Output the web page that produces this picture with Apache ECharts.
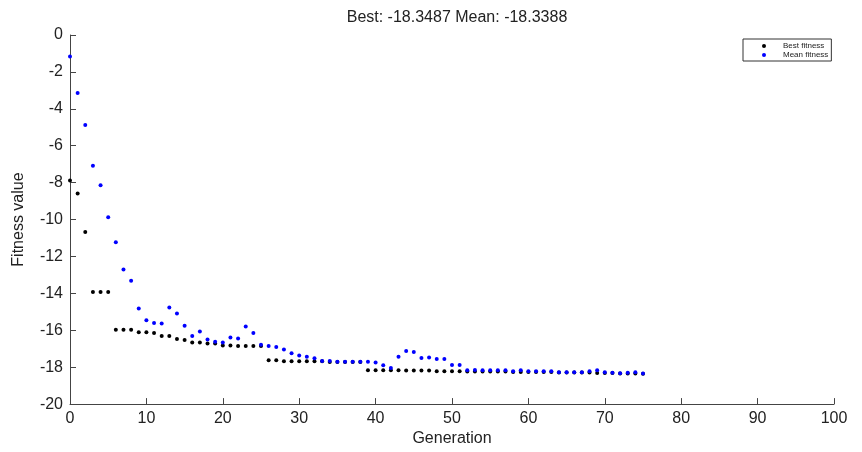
<!DOCTYPE html>
<html>
<head>
<meta charset="utf-8">
<script src="https://cdn.jsdelivr.net/npm/echarts@6/dist/echarts.min.js"></script>
<style>
  html, body { margin: 0; padding: 0; background: #fff; }
  #chart { width: 862px; height: 452px; }
</style>
</head>
<body>
<div id="chart"></div>
<script>
// Generation index for every recorded step
const generations = [];
for (let g = 0; g <= 75; g++) generations.push(g);

// Best fitness per generation
const bestFitness = [
  -7.89, -8.59, -10.67, -13.92, -13.92, -13.92, -15.97, -15.97, -15.97, -16.10,
  -16.10, -16.15, -16.31, -16.31, -16.47, -16.53, -16.66, -16.66, -16.71, -16.71,
  -16.82, -16.82, -16.85, -16.85, -16.85, -16.85, -17.63, -17.63, -17.68, -17.68,
  -17.68, -17.68, -17.68, -17.68, -17.72, -17.72, -17.72, -17.72, -17.72, -18.17,
  -18.17, -18.17, -18.17, -18.17, -18.18, -18.18, -18.18, -18.18, -18.22, -18.22,
  -18.22, -18.22, -18.24, -18.24, -18.24, -18.24, -18.24, -18.24, -18.26, -18.26,
  -18.26, -18.26, -18.26, -18.26, -18.29, -18.29, -18.29, -18.29, -18.29, -18.31,
  -18.31, -18.31, -18.345, -18.345, -18.345, -18.3487
];

// Mean fitness per generation
const meanFitness = [
  -1.16, -3.14, -4.87, -7.08, -8.14, -9.88, -11.23, -12.70, -13.32, -14.82,
  -15.45, -15.60, -15.63, -14.77, -15.09, -15.76, -16.31, -16.06, -16.50, -16.62,
  -16.66, -16.39, -16.44, -15.80, -16.15, -16.78, -16.85, -16.91, -17.04, -17.24,
  -17.36, -17.44, -17.52, -17.66, -17.66, -17.70, -17.70, -17.71, -17.70, -17.71,
  -17.74, -17.90, -18.04, -17.43, -17.12, -17.18, -17.50, -17.48, -17.55, -17.55,
  -17.88, -17.88, -18.17, -18.15, -18.17, -18.17, -18.17, -18.17, -18.22, -18.17,
  -18.22, -18.22, -18.22, -18.22, -18.27, -18.27, -18.27, -18.27, -18.22, -18.17,
  -18.27, -18.30, -18.33, -18.30, -18.27, -18.3388
];

const xTicks = [0, 100, 10];   // min, max, interval
const yTicks = [-20, 0, 2];    // min, max, interval

const font = 'Liberation Sans, Arial, Helvetica, sans-serif';
const axisColor = '#444';
const textColor = '#222';

const pairs = (ys) => generations.map((g, i) => [g, ys[i]]);

const chart = echarts.init(document.getElementById('chart'), null, { renderer: 'canvas' });
chart.setOption({
  animation: false,
  backgroundColor: '#fff',
  title: {
    text: 'Best: ' + bestFitness[bestFitness.length - 1] + ' Mean: ' + meanFitness[meanFitness.length - 1],
    left: 452,
    top: 5,
    textAlign: 'center',
    textStyle: { fontFamily: font, fontSize: 16, fontWeight: 'normal', color: textColor }
  },
  legend: {
    data: ['Best fitness', 'Mean fitness'],
    orient: 'vertical',
    left: 743,
    top: 39,
    padding: [3, 3, 2, 19],
    itemWidth: 28,
    itemHeight: 4,
    itemGap: 1,
    borderColor: '#333',
    borderWidth: 1,
    borderRadius: 0,
    backgroundColor: '#fff',
    textStyle: { fontFamily: font, fontSize: 8, lineHeight: 8, color: textColor }
  },
  grid: { left: 70, right: 28, top: 35, bottom: 46, containLabel: false },
  xAxis: {
    type: 'value',
    min: xTicks[0], max: xTicks[1], interval: xTicks[2],
    name: 'Generation',
    nameLocation: 'middle',
    nameGap: 26,
    nameTextStyle: { fontFamily: font, fontSize: 16, color: textColor },
    axisLine: { onZero: false, lineStyle: { color: axisColor, width: 1 } },
    axisTick: { inside: true, length: 6, lineStyle: { color: axisColor } },
    axisLabel: { fontFamily: font, fontSize: 16, color: textColor, margin: 6 },
    splitLine: { show: false }
  },
  yAxis: {
    type: 'value',
    min: yTicks[0], max: yTicks[1], interval: yTicks[2],
    name: 'Fitness value',
    nameLocation: 'middle',
    nameGap: 43,
    nameTextStyle: { fontFamily: font, fontSize: 16, color: textColor },
    axisLine: { onZero: false, lineStyle: { color: axisColor, width: 1 } },
    axisTick: { inside: true, length: 6, lineStyle: { color: axisColor } },
    axisLabel: { fontFamily: font, fontSize: 16, color: textColor, margin: 7 },
    splitLine: { show: false }
  },
  series: [
    {
      name: 'Best fitness',
      type: 'scatter',
      symbol: 'circle',
      symbolSize: 4,
      itemStyle: { color: '#000000', opacity: 1 },
      data: pairs(bestFitness)
    },
    {
      name: 'Mean fitness',
      type: 'scatter',
      symbol: 'circle',
      symbolSize: 4,
      itemStyle: { color: '#0000ff', opacity: 1 },
      data: pairs(meanFitness)
    }
  ]
});
</script>
</body>
</html>
